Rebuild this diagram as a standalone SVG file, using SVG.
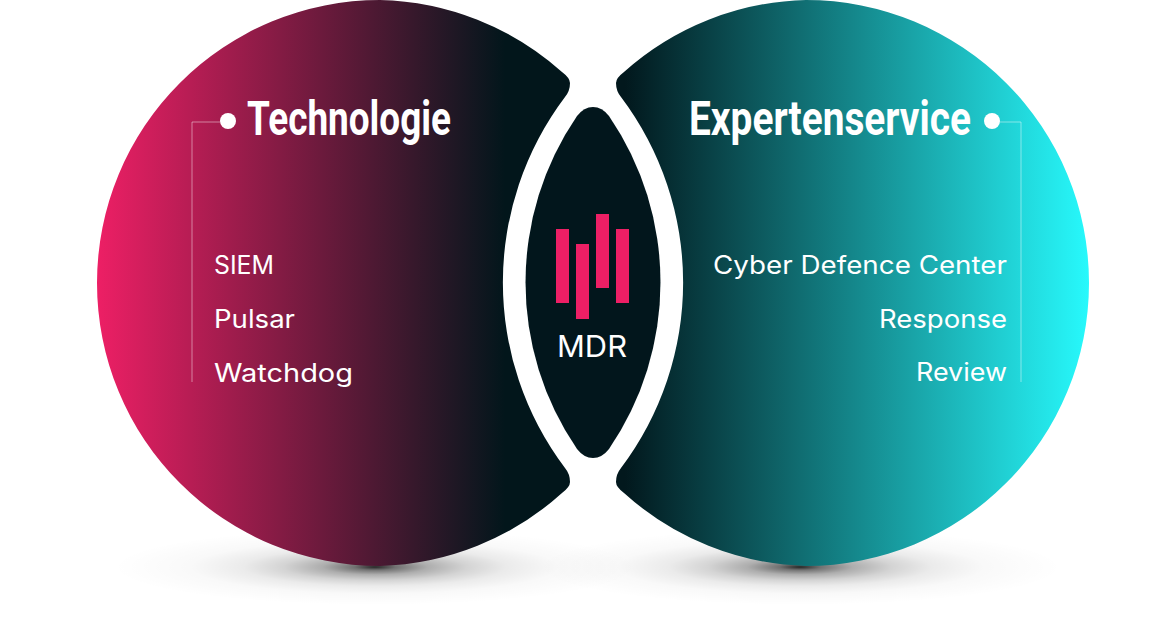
<svg xmlns="http://www.w3.org/2000/svg" width="1174" height="621" viewBox="0 0 1174 621">
<defs>
<linearGradient id="gl" gradientUnits="userSpaceOnUse" x1="97" y1="0" x2="505" y2="0"><stop offset="0" stop-color="#ed1f65"/><stop offset="1" stop-color="#02161b"/></linearGradient>
<linearGradient id="gr" gradientUnits="userSpaceOnUse" x1="625" y1="0" x2="1089" y2="0"><stop offset="0" stop-color="#02181d"/><stop offset="1" stop-color="#27f9fc"/></linearGradient>
<radialGradient id="sh"><stop offset="0" stop-color="#000" stop-opacity=".85"/><stop offset=".08" stop-color="#000" stop-opacity=".55"/><stop offset=".2" stop-color="#000" stop-opacity=".32"/><stop offset=".35" stop-color="#000" stop-opacity=".17"/><stop offset=".5" stop-color="#000" stop-opacity=".08"/><stop offset=".7" stop-color="#000" stop-opacity=".025"/><stop offset="1" stop-color="#000" stop-opacity="0"/></radialGradient>
</defs>
<style>
.t{font-family:"Inter","Liberation Sans",sans-serif;font-size:25px;fill:#fff}
.h{font-family:"Roboto","Liberation Sans",sans-serif;font-weight:700;font-size:49px;fill:#fff}
.l{fill:none;stroke:#fff;stroke-opacity:.45;stroke-width:1}
.b{fill:#ed1f65}
</style>
<rect width="1174" height="621" fill="#fff"/>
<g id="shadows">
<ellipse cx="375" cy="567" rx="262" ry="38" fill="url(#sh)"/>
<ellipse cx="800" cy="567" rx="262" ry="38" fill="url(#sh)"/>
</g>
<g id="technologie">
<path d="M380 0A283 283 0 0 0 380 566A283 283 0 0 0 562 493Q570 487 570 482Q570 474 565 468A308 308 0 0 1 565 97Q570 91 570 83Q570 78 562 72A283 283 0 0 0 380 0Z" fill="url(#gl)"/>
<path class="l" d="M220 122H192V382"/>
<circle cx="228" cy="121" r="8" fill="#fff"/>
<text class="h" x="247" y="135" textLength="204" lengthAdjust="spacingAndGlyphs">Technologie</text>
<text class="t" x="214" y="274" textLength="60" lengthAdjust="spacingAndGlyphs">SIEM</text>
<text class="t" x="214" y="328" textLength="81" lengthAdjust="spacingAndGlyphs">Pulsar</text>
<text class="t" x="214" y="382" textLength="139" lengthAdjust="spacingAndGlyphs">Watchdog</text>
</g>
<g id="expertenservice">
<path d="M806 0A283 283 0 0 1 806 566A283 283 0 0 1 624 493Q616 487 616 482Q616 474 621 468A308 308 0 0 0 621 97Q616 91 616 83Q616 78 624 72A283 283 0 0 1 806 0Z" fill="url(#gr)"/>
<path class="l" d="M1000 122H1021V382"/>
<circle cx="992" cy="121" r="8" fill="#fff"/>
<text class="h" x="689" y="135" textLength="282" lengthAdjust="spacingAndGlyphs">Expertenservice</text>
<text class="t" x="713" y="274" textLength="294" lengthAdjust="spacingAndGlyphs">Cyber Defence Center</text>
<text class="t" x="879" y="328" textLength="128" lengthAdjust="spacingAndGlyphs">Response</text>
<text class="t" x="916" y="381" textLength="91" lengthAdjust="spacingAndGlyphs">Review</text>
</g>
<g id="mdr">
<path d="M593 107Q602 107 609 116A295 295 0 0 1 609 449Q602 458 593 458Q584 458 577 449A295 295 0 0 1 577 116Q584 107 593 107Z" fill="#02161c"/>
<rect class="b" x="556" y="229" width="13" height="74"/>
<rect class="b" x="576" y="244" width="13" height="75"/>
<rect class="b" x="596" y="214" width="13" height="74"/>
<rect class="b" x="616" y="229" width="13" height="74"/>
<text class="t" x="557" y="357" style="font-size:30px" textLength="70" lengthAdjust="spacingAndGlyphs">MDR</text>
</g>
<g id="connectors"></g>
</svg>
